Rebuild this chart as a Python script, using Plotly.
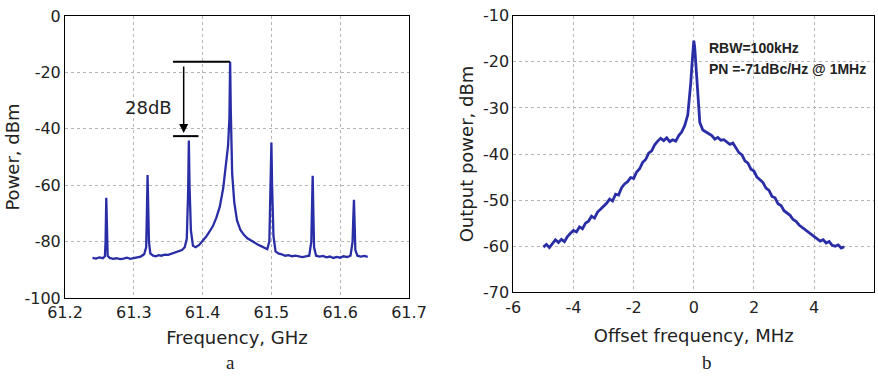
import plotly.graph_objects as go

# ---------------- data: panel a ----------------
freq_ghz = [61.240, 61.245, 61.250, 61.255, 61.258, 61.259, 61.260, 61.261, 61.262, 61.265,
            61.270, 61.275, 61.280, 61.285, 61.290, 61.295, 61.300, 61.305, 61.310, 61.315,
            61.318, 61.319, 61.320, 61.321, 61.322, 61.324, 61.328, 61.332, 61.336, 61.340,
            61.345, 61.350, 61.355, 61.360, 61.365, 61.370, 61.374, 61.377, 61.379, 61.380,
            61.381, 61.383, 61.386, 61.390, 61.395, 61.400, 61.405, 61.410, 61.415, 61.420,
            61.425, 61.430, 61.434, 61.437, 61.439, 61.440, 61.441, 61.443, 61.446, 61.450,
            61.455, 61.460, 61.465, 61.470, 61.475, 61.480, 61.485, 61.490, 61.494, 61.497,
            61.499, 61.500, 61.501, 61.503, 61.506, 61.510, 61.515, 61.520, 61.525, 61.530,
            61.535, 61.540, 61.545, 61.550, 61.555, 61.558, 61.559, 61.560, 61.561, 61.562,
            61.565, 61.570, 61.575, 61.580, 61.585, 61.590, 61.595, 61.600, 61.605, 61.610,
            61.615, 61.618, 61.619, 61.620, 61.621, 61.622, 61.625, 61.630, 61.635, 61.640]
power_dbm = [-85.8, -86.0, -85.6, -85.9, -85.2, -80.0, -64.5, -78.0, -85.0, -85.8,
             -86.1, -85.9, -86.2, -86.0, -85.7, -86.1, -85.9, -85.6, -85.3, -84.5,
             -82.0, -70.0, -56.4, -68.0, -80.0, -84.2, -85.0, -85.2, -84.8, -85.0,
             -84.6, -84.7, -84.3, -84.0, -83.6, -83.0, -82.0, -79.0, -62.0, -44.2,
             -60.0, -76.0, -81.5, -82.0, -81.2, -79.8, -78.3, -76.5, -74.5, -71.5,
             -67.6, -61.0, -53.0, -46.0, -36.0, -16.2, -34.0, -56.0, -66.0, -72.5,
             -75.9, -77.6, -78.8, -79.6, -80.3, -81.0, -81.6, -82.3, -82.7, -80.0,
             -62.0, -44.9, -60.0, -78.0, -83.5, -84.2, -84.5, -85.0, -84.8, -85.2,
             -85.0, -85.3, -85.5, -85.2, -85.0, -80.0, -70.0, -56.7, -70.0, -82.0,
             -85.0, -85.3, -85.1, -85.6, -85.3, -85.8, -85.4, -85.7, -85.2, -85.5,
             -85.0, -80.0, -72.0, -65.2, -74.0, -83.0, -85.0, -85.3, -85.1, -85.4]

xa_tickvals = [61.2, 61.3, 61.4, 61.5, 61.6, 61.7]
xa_ticktext = ["61.2", "61.3", "61.4", "61.5", "61.6", "61.7"]
ya_tickvals = [-100, -80, -60, -40, -20, 0]
ya_ticktext = ["-100", "-80", "-60", "-40", "-20", "0"]

# ---------------- data: panel b ----------------
offset_mhz = [-5.0, -4.9, -4.8, -4.7, -4.6, -4.5, -4.4, -4.3, -4.2, -4.1,
              -4.0, -3.9, -3.8, -3.7, -3.6, -3.5, -3.4, -3.3, -3.2, -3.1,
              -3.0, -2.9, -2.8, -2.7, -2.6, -2.5, -2.4, -2.3, -2.2, -2.1,
              -2.0, -1.9, -1.8, -1.7, -1.6, -1.5, -1.4, -1.3, -1.2, -1.1,
              -1.0, -0.9, -0.8, -0.7, -0.6, -0.5, -0.4, -0.3, -0.2, -0.15,
              -0.1, -0.06, -0.03, 0.0, 0.03, 0.06, 0.1, 0.15, 0.2, 0.3,
              0.4, 0.5, 0.6, 0.7, 0.8, 0.9, 1.0, 1.1, 1.2, 1.3,
              1.4, 1.5, 1.6, 1.7, 1.8, 1.9, 2.0, 2.1, 2.2, 2.3,
              2.4, 2.5, 2.6, 2.7, 2.8, 2.9, 3.0, 3.1, 3.2, 3.3,
              3.4, 3.5, 3.6, 3.7, 3.8, 3.9, 4.0, 4.1, 4.2, 4.3,
              4.4, 4.5, 4.6, 4.7, 4.8, 4.9, 5.0]
output_dbm = [-60.2, -59.6, -60.3, -59.4, -58.6, -59.2, -58.5, -59.0, -57.9, -57.2,
              -56.6, -56.9, -55.8, -56.2, -55.0, -54.6, -53.5, -53.9, -52.6, -52.0,
              -51.4, -50.7, -49.8, -50.2, -48.7, -48.9, -47.3, -46.5, -46.0, -45.1,
              -45.3, -43.9, -43.2, -41.8, -41.2, -39.8, -39.3, -38.0, -37.2, -36.6,
              -37.1, -36.5, -37.3, -36.9, -37.2, -36.0, -35.2, -33.8, -31.5, -28.5,
              -24.5, -20.5, -17.0, -15.4, -16.8, -20.0, -25.0, -30.0, -33.2, -34.8,
              -35.3, -35.6, -36.0, -36.8, -36.4, -37.0, -36.9, -37.5, -37.9, -37.6,
              -38.6, -39.7, -40.2, -41.5, -42.0, -43.3, -43.7, -45.0, -45.6, -46.2,
              -47.4, -47.9, -49.2, -49.5, -50.8, -51.2, -52.3, -52.8, -53.3, -54.2,
              -54.6, -55.4, -55.9, -56.5, -57.0, -57.4, -57.9, -58.3, -58.9, -58.6,
              -59.3, -59.0, -59.8, -60.0, -59.7, -60.4, -60.1]

xb_tickvals = [-6, -4, -2, 0, 2, 4, 6]
xb_ticktext = ["-6", "-4", "-2", "0", "2", "4", "6"]
yb_tickvals = [-70, -60, -50, -40, -30, -20, -10]
yb_ticktext = ["-70", "-60", "-50", "-40", "-30", "-20", "-10"]

# ---------------- styling ----------------
W, H = 878, 376
LINE = "#2a2ea6"
SANS = "DejaVu Sans"
tickfont = dict(family=SANS, size=16, color="#222")
titlefont = dict(family=SANS, size=18, color="#222")

def px_dom_x(a, b):
    return [a / W, b / W]

def px_dom_y(top, bottom):
    return [1 - bottom / H, 1 - top / H]

fig = go.Figure()
fig.add_trace(go.Scatter(x=freq_ghz, y=power_dbm, mode="lines",
                         line=dict(color=LINE, width=2.3), xaxis="x", yaxis="y",
                         showlegend=False))
fig.add_trace(go.Scatter(x=offset_mhz, y=output_dbm, mode="lines",
                         line=dict(color=LINE, width=2.8), xaxis="x2", yaxis="y2",
                         showlegend=False))

axis_common = dict(showline=True, linecolor="black", linewidth=1, mirror=True,
                   showgrid=True, gridcolor="#b5b5b5", griddash="dot", gridwidth=1,
                   zeroline=False, ticks="", tickfont=tickfont, tickmode="array",
                   automargin=False)

fig.update_layout(
    width=W, height=H, margin=dict(l=0, r=0, t=0, b=0, pad=0, autoexpand=False),
    paper_bgcolor="white", plot_bgcolor="white",
    xaxis=dict(axis_common, domain=px_dom_x(65, 409), range=[61.2, 61.7],
               tickvals=xa_tickvals, ticktext=xa_ticktext, anchor="y",
               title=dict(text="Frequency, GHz", font=titlefont, standoff=10)),
    yaxis=dict(axis_common, domain=px_dom_y(16, 298), range=[-100, 0],
               tickvals=ya_tickvals, ticktext=ya_ticktext, anchor="x",
               title=dict(text="Power, dBm", font=titlefont, standoff=0)),
    xaxis2=dict(axis_common, domain=px_dom_x(513.3, 874.3), range=[-6, 6],
                tickvals=xb_tickvals, ticktext=xb_ticktext, anchor="y2",
                title=dict(text="Offset frequency, MHz", font=titlefont, standoff=13)),
    yaxis2=dict(axis_common, domain=px_dom_y(15.7, 292.3), range=[-70, -10],
                tickvals=yb_tickvals, ticktext=yb_ticktext, anchor="x2",
                title=dict(text="Output power, dBm", font=titlefont, standoff=4)),
)

# 28 dB marker (panel a)
fig.add_shape(type="line", xref="x", yref="y", x0=61.357, x1=61.44, y0=-16.2, y1=-16.2,
              line=dict(color="black", width=2))
fig.add_shape(type="line", xref="x", yref="y", x0=61.357, x1=61.394, y0=-42.6, y1=-42.6,
              line=dict(color="black", width=2))
fig.add_annotation(xref="x", yref="y", axref="x", ayref="y", x=61.3725, y=-41.5,
                   ax=61.3725, ay=-17.4, text="", showarrow=True, arrowhead=2,
                   arrowsize=1.2, arrowwidth=1.5, arrowcolor="black")
fig.add_annotation(xref="x", yref="y", x=61.321, y=-32.6, text="28dB", showarrow=False,
                   xanchor="center", yanchor="middle",
                   font=dict(family=SANS, size=18, color="#222"))

# panel b text
fig.add_annotation(xref="x2", yref="y2", x=0.43, y=-16.9, text="<b>RBW=100kHz</b>",
                   showarrow=False, xanchor="left", yanchor="middle",
                   font=dict(family="Liberation Sans", size=14, color="#222"))
fig.add_annotation(xref="x2", yref="y2", x=0.43, y=-21.6, text="<b>PN =-71dBc/Hz @ 1MHz</b>",
                   showarrow=False, xanchor="left", yanchor="middle",
                   font=dict(family="Liberation Sans", size=14, color="#222"))

# panel captions
fig.add_annotation(xref="paper", yref="paper", x=230 / W, y=1 - 362 / H, text="a",
                   showarrow=False, xanchor="center", yanchor="middle",
                   font=dict(family="Liberation Serif", size=19, color="#222"))
fig.add_annotation(xref="paper", yref="paper", x=706.7 / W, y=1 - 362 / H, text="b",
                   showarrow=False, xanchor="center", yanchor="middle",
                   font=dict(family="Liberation Serif", size=19, color="#222"))

fig.write_html("out.html", config={"displayModeBar": False},
               post_script="document.body.style.margin='0';document.body.style.overflow='hidden';")
